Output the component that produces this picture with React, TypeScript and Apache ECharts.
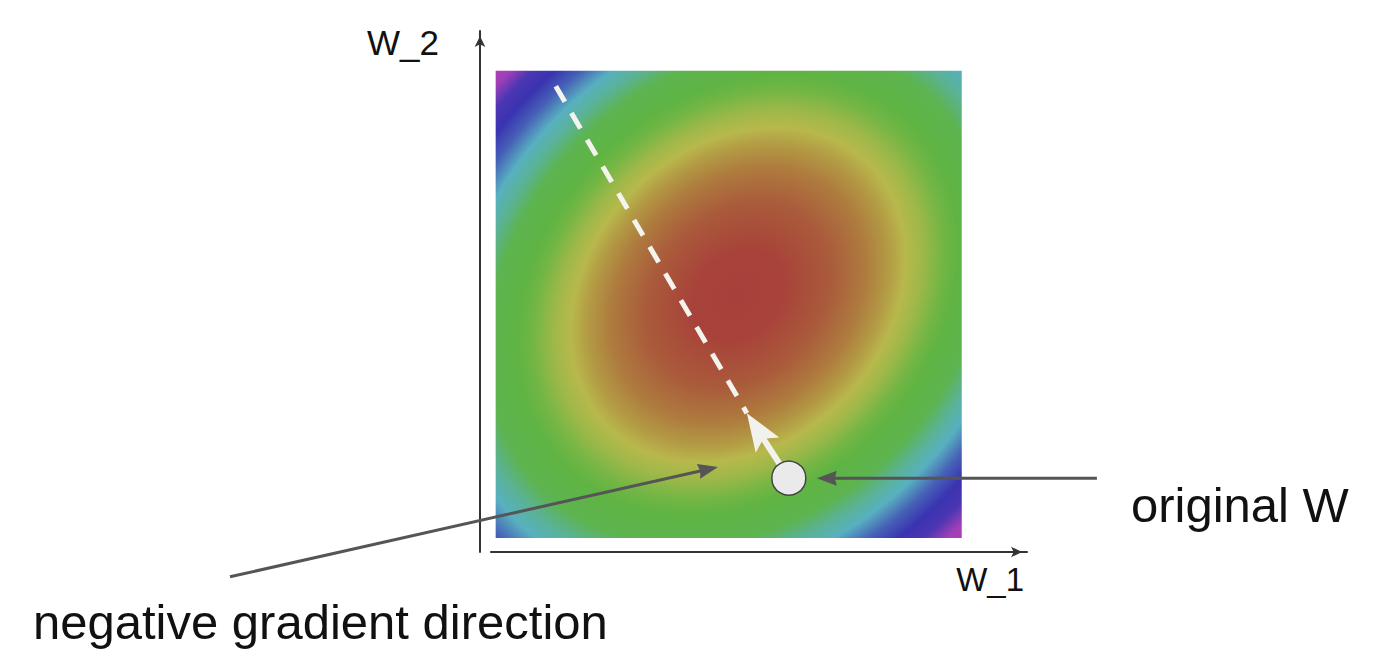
import React, { useEffect, useRef } from "react";
import * as echarts from "echarts";

// ---- data (W_1 / W_2 units) ----
const W1_RANGE = [0, 10];
const W2_RANGE = [0, 10];
// loss bowl: [minimum W_1, minimum W_2, outer radius along long axis, outer radius along short axis, tilt in degrees]
const lossBowl = [[5.2, 5.2, 9.12, 7.28, 45]];
const originalW = [6.29, 1.28];
const stepTip = [5.39, 2.67];
const descentEnd = [1.29, 9.67];
// annotation pointers: [tail W_1, tail W_2, head W_1, head W_2]
const gradientPointer = [-5.7, -0.83, 4.77, 1.52];
const originalPointer = [12.9, 1.28, 6.89, 1.28];

const X_AXIS = { min: -0.1, max: 11.4, name: "W_1" };
const Y_AXIS = { min: -0.3, max: 10.85, name: "W_2" };

const LABEL_ORIGINAL = "original W";
const LABEL_GRADIENT = "negative gradient direction";

const LOSS_STOPS: [number, string][] = [
  [0, "#A7403A"],
  [0.12, "#A8433A"],
  [0.24, "#AA5B3B"],
  [0.33, "#AE7B3E"],
  [0.39, "#B39A44"],
  [0.435, "#B8B84C"],
  [0.48, "#9DB849"],
  [0.53, "#74B645"],
  [0.57, "#60B443"],
  [0.65, "#5DB450"],
  [0.7, "#5AB296"],
  [0.745, "#58B0C0"],
  [0.8, "#4660B6"],
  [0.85, "#3A33B1"],
  [0.895, "#4C36B2"],
  [0.94, "#A03FB7"],
  [1, "#B842B8"],
];

const FONT = '"Liberation Sans", Arial, Helvetica, sans-serif';

function arrowRenderer(o: { color: string; width: number; headLen: number; headHalf: number; notch: number }) {
  return (params: any, api: any) => {
    const p1 = api.coord([api.value(0), api.value(1)]);
    const p2 = api.coord([api.value(2), api.value(3)]);
    const dx = p2[0] - p1[0];
    const dy = p2[1] - p1[1];
    const len = Math.hypot(dx, dy) || 1;
    const ux = dx / len;
    const uy = dy / len;
    const px = -uy;
    const py = ux;
    const back = [p2[0] - ux * o.headLen, p2[1] - uy * o.headLen];
    const nb = [p2[0] - ux * o.headLen * o.notch, p2[1] - uy * o.headLen * o.notch];
    return {
      type: "group",
      children: [
        {
          type: "line",
          shape: { x1: p1[0], y1: p1[1], x2: nb[0] + ux * 1, y2: nb[1] + uy * 1 },
          style: { stroke: o.color, lineWidth: o.width },
        },
        {
          type: "polygon",
          shape: {
            points: [
              [p2[0], p2[1]],
              [back[0] + px * o.headHalf, back[1] + py * o.headHalf],
              [nb[0], nb[1]],
              [back[0] - px * o.headHalf, back[1] - py * o.headHalf],
            ],
          },
          style: { fill: o.color },
        },
      ],
    };
  };
}

export default function App() {
  const ref = useRef<HTMLDivElement>(null);
  useEffect(() => {
    document.body.style.margin = "0";
    const chart = echarts.init(ref.current!, undefined, { renderer: "svg" });
    const axisLine = {
      show: true,
      onZero: false,
      symbol: ["none", "arrow"],
      symbolSize: [8, 11],
      symbolOffset: [0, -5],
      lineStyle: { color: "#333333", width: 2 },
    };
    const option: any = {
      animation: false,
      backgroundColor: "#ffffff",
      grid: { left: 491, top: 31, width: 536, height: 521 },
      xAxis: {
        type: "value",
        min: X_AXIS.min,
        max: X_AXIS.max,
        axisLine,
        axisTick: { show: false },
        axisLabel: { show: false },
        splitLine: { show: false },
      },
      yAxis: {
        type: "value",
        min: Y_AXIS.min,
        max: Y_AXIS.max,
        offset: 11,
        axisLine,
        axisTick: { show: false },
        axisLabel: { show: false },
        splitLine: { show: false },
      },
      series: [
        {
          type: "custom",
          name: "loss",
          z: 1,
          data: lossBowl,
          renderItem: (params: any, api: any) => {
            const c = api.coord([api.value(0), api.value(1)]);
            const s = api.size([api.value(2), api.value(3)]);
            const lo = api.coord([W1_RANGE[0], W2_RANGE[0]]);
            const hi = api.coord([W1_RANGE[1], W2_RANGE[1]]);
            return {
              type: "group",
              clipPath: {
                type: "rect",
                shape: { x: lo[0], y: hi[1], width: hi[0] - lo[0], height: lo[1] - hi[1] },
              },
              children: [
                {
                  type: "ellipse",
                  x: c[0],
                  y: c[1],
                  rotation: (api.value(4) * Math.PI) / 180,
                  shape: { cx: 0, cy: 0, rx: s[0], ry: s[1] },
                  style: {
                    fill: {
                      type: "radial",
                      x: 0.5,
                      y: 0.5,
                      r: 0.5,
                      global: false,
                      colorStops: LOSS_STOPS.map(([offset, color]) => ({ offset, color })),
                    },
                  },
                },
              ],
            };
          },
        },
        {
          type: "line",
          name: "descent",
          z: 2,
          data: [descentEnd, stepTip],
          symbol: "none",
          lineStyle: { color: "#F4F4EE", width: 5, type: [18, 13], cap: "butt", opacity: 1 },
        },
        {
          type: "custom",
          name: "step",
          z: 3,
          data: [[originalW[0], originalW[1], stepTip[0], stepTip[1]]],
          renderItem: arrowRenderer({ color: "#F2F2EC", width: 6, headLen: 38, headHalf: 14, notch: 0.8 }),
        },
        {
          type: "scatter",
          name: "original W",
          z: 4,
          data: [originalW],
          symbol: "circle",
          symbolSize: 34,
          itemStyle: { color: "#EAEAEA", borderColor: "#444444", borderWidth: 1.5, opacity: 1 },
        },
        {
          type: "custom",
          name: "pointers",
          z: 5,
          data: [gradientPointer, originalPointer],
          renderItem: arrowRenderer({ color: "#555555", width: 3, headLen: 20, headHalf: 7.5, notch: 0.9 }),
        },
      ],
      graphic: [
        {
          type: "text",
          x: 1024,
          y: 579,
          style: { text: X_AXIS.name, font: `33px ${FONT}`, fill: "#111111", align: "right", verticalAlign: "middle" },
        },
        {
          type: "text",
          x: 367,
          y: 42,
          style: { text: Y_AXIS.name, font: `35px ${FONT}`, fill: "#111111", align: "left", verticalAlign: "middle" },
        },
        {
          type: "text",
          x: 1131,
          y: 505,
          style: { text: LABEL_ORIGINAL, font: `49px ${FONT}`, fill: "#111111", align: "left", verticalAlign: "middle" },
        },
        {
          type: "text",
          x: 33,
          y: 622,
          style: { text: LABEL_GRADIENT, font: `49px ${FONT}`, fill: "#111111", align: "left", verticalAlign: "middle" },
        },
      ],
    };
    chart.setOption(option);
    return () => chart.dispose();
  }, []);
  return <div ref={ref} style={{ width: 1392, height: 664 }} />;
}
